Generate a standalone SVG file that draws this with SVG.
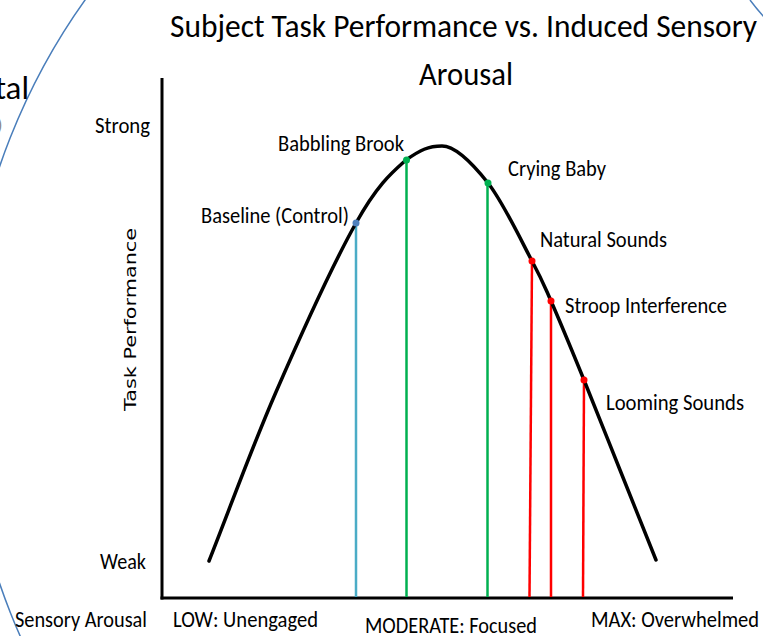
<svg xmlns="http://www.w3.org/2000/svg" width="763" height="636" viewBox="0 0 763 636">
<style>
text{font-family:Carlito,"Liberation Sans",Arial,sans-serif;fill:#000}
.lbl{font-size:22px}
.title{font-size:33px}
.axis{stroke:#000;stroke-width:3;fill:none}
.curve{stroke:#000;stroke-width:3.5;fill:none;stroke-linecap:round}
.arc{stroke:#4a7ebb;stroke-width:1.5;fill:none}
.blue{stroke:#4bacc6;stroke-width:2.5}
.green{stroke:#00b050;stroke-width:2.5}
.red{stroke:#ff0000;stroke-width:2.5}
</style>
<rect width="763" height="636" fill="#fff"/>
<g id="background">
<circle class="arc" cx="610" cy="375" r="645"/>
<path class="arc" d="M750,0 Q756,8 764,17"/>
<text x="29" y="99" font-size="33" text-anchor="end">tal</text>
<text x="-3" y="131" font-size="18" style="fill:#888">)</text>
</g>
<g id="title">
<text class="title" x="170" y="37" textLength="587" lengthAdjust="spacingAndGlyphs">Subject Task Performance vs. Induced Sensory</text>
<text class="title" x="419" y="85" textLength="94" lengthAdjust="spacingAndGlyphs">Arousal</text>
</g>
<g id="axes">
<line class="axis" x1="162" y1="78" x2="162" y2="599.5"/>
<line class="axis" x1="160.5" y1="598" x2="733" y2="598"/>
<text class="lbl" x="95" y="133" textLength="55" lengthAdjust="spacingAndGlyphs">Strong</text>
<text class="lbl" x="100" y="569" textLength="46" lengthAdjust="spacingAndGlyphs">Weak</text>
<text transform="translate(136,411) rotate(-90)" x="0" y="0" style="font-family:'DejaVu Sans','Open Sans',sans-serif;font-size:16px" textLength="183" lengthAdjust="spacingAndGlyphs">Task Performance</text>
<text class="lbl" x="15" y="627" textLength="132" lengthAdjust="spacingAndGlyphs">Sensory Arousal</text>
<text class="lbl" x="173" y="627" textLength="145" lengthAdjust="spacingAndGlyphs">LOW: Unengaged</text>
<text class="lbl" x="365" y="633" textLength="172" lengthAdjust="spacingAndGlyphs">MODERATE: Focused</text>
<text class="lbl" x="591" y="627" textLength="168" lengthAdjust="spacingAndGlyphs">MAX: Overwhelmed</text>
</g>
<g id="connectors">
<line class="blue" x1="356" y1="223" x2="356" y2="597"/>
<line class="green" x1="406.5" y1="160" x2="406.5" y2="597"/>
<line class="green" x1="487.5" y1="183" x2="487.5" y2="597"/>
<line class="red" x1="532" y1="261" x2="529.5" y2="597"/>
<line class="red" x1="551" y1="301" x2="551" y2="597"/>
<line class="red" x1="584" y1="380" x2="583" y2="597"/>
</g>
<g id="curve">
<path class="curve" d="M209,561 C231.3,504.7 251.5,448.3 276,392 C300.5,335.7 334.3,261.7 356,223 C377.7,184.3 391.7,172.7 406,160 C420.3,150 428.3,146 442,146 C455.7,146 473,164 488,183 C503,202 521.5,241.3 532,261 C542.5,280.7 542.3,281.2 551,301 C559.7,320.8 572.5,351.8 584,380 C595.5,408.2 608,440 620,470 C632,500 644,530 656,560"/>
</g>
<g id="node-baseline">
<circle cx="356" cy="223" r="3.5" fill="#4f81bd"/>
<text class="lbl" x="201" y="223" textLength="148" lengthAdjust="spacingAndGlyphs">Baseline (Control)</text>
</g>
<g id="node-babbling-brook">
<circle cx="406.5" cy="160" r="3.5" fill="#00b050"/>
<text class="lbl" x="278" y="151" textLength="126" lengthAdjust="spacingAndGlyphs">Babbling Brook</text>
</g>
<g id="node-crying-baby">
<circle cx="488" cy="183" r="3.5" fill="#00b050"/>
<text class="lbl" x="508" y="176" textLength="98" lengthAdjust="spacingAndGlyphs">Crying Baby</text>
</g>
<g id="node-natural-sounds">
<circle cx="532" cy="261" r="3.5" fill="#ff0000"/>
<text class="lbl" x="540" y="247" textLength="127" lengthAdjust="spacingAndGlyphs">Natural Sounds</text>
</g>
<g id="node-stroop">
<circle cx="551" cy="301" r="3.5" fill="#ff0000"/>
<text class="lbl" x="565" y="313" textLength="162" lengthAdjust="spacingAndGlyphs">Stroop Interference</text>
</g>
<g id="node-looming">
<circle cx="584" cy="380" r="3.5" fill="#ff0000"/>
<text class="lbl" x="606" y="410" textLength="138" lengthAdjust="spacingAndGlyphs">Looming Sounds</text>
</g>
</svg>
